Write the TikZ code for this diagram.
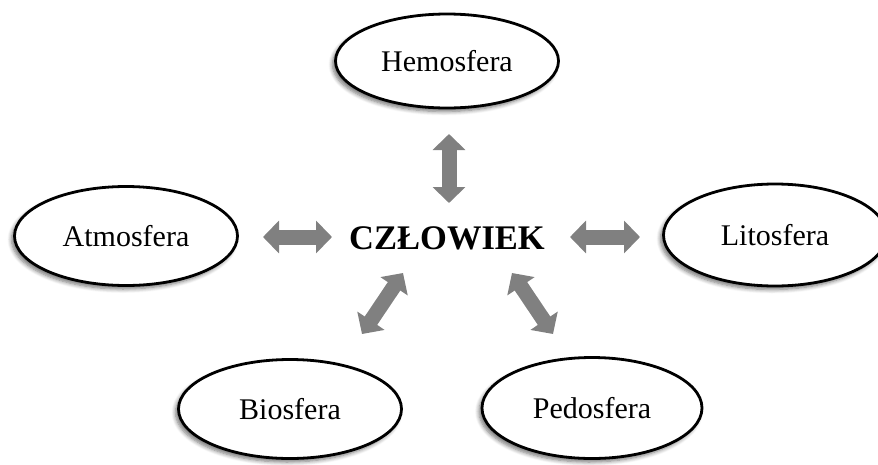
\documentclass[tikz,border=0pt]{standalone}
\usepackage{fontspec}
\setmainfont{Liberation Serif}
\usetikzlibrary{shapes.geometric,arrows.meta,shadows.blur}
\begin{document}
\begin{tikzpicture}[x=1pt,y=-1pt,
  sphere/.style={ellipse,draw=black,line width=2.8pt,fill=white,inner sep=0pt,
    minimum width=223pt,minimum height=99pt,font=\fontsize{30}{34}\selectfont,
    blur shadow={shadow xshift=-3pt,shadow yshift=-3.5pt,shadow blur steps=6,shadow blur radius=4pt,shadow opacity=55}},
  link/.style={draw=arrowgray,line width=15pt,
    {Triangle[width=32pt,length=16pt]}-{Triangle[width=32pt,length=16pt]}}]
\definecolor{arrowgray}{RGB}{128,128,128}
\useasboundingbox (0,0) rectangle (878,464);
\begin{scope}
\clip (0,0) rectangle (878,464);
\node[sphere,minimum height=94pt] (hemo) at (447,61) {Hemosfera};
\node[sphere] (atmo) at (126,236) {Atmosfera};
\node[sphere,minimum height=102pt] (lito) at (775,235) {Litosfera};
\node[sphere] (bio) at (290,409) {Biosfera};
\node[sphere,minimum width=220pt,minimum height=101pt] (pedo) at (592,408) {Pedosfera};
\end{scope}
\node[font=\fontsize{34.5}{38}\selectfont\bfseries,inner sep=0pt] (czl) at (447,238) {CZŁOWIEK};
% arrow end points
\coordinate (vT) at (449,134);
\coordinate (vB) at (449,203);
\coordinate (lL) at (263,237);
\coordinate (lR) at (332,237);
\coordinate (rL) at (570,237);
\coordinate (rR) at (640,237);
\coordinate (dlT) at (403,273);
\coordinate (dlB) at (362,334);
\coordinate (drT) at (512,273);
\coordinate (drB) at (553,334);
\path[link] (vT) -- (vB);
\path[link] (lL) -- (lR);
\path[link] (rL) -- (rR);
\path[link] (dlT) -- (dlB);
\path[link] (drT) -- (drB);
\end{tikzpicture}
\end{document}
